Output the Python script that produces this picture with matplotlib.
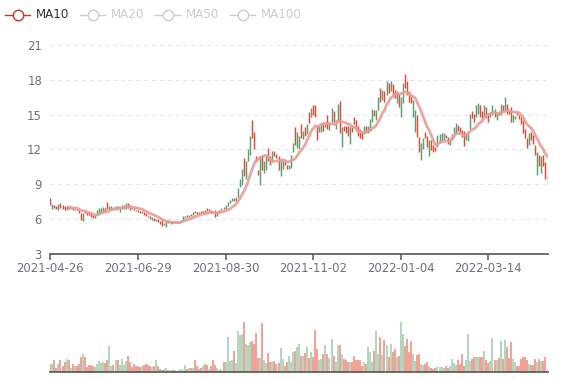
import numpy as np
import pandas as pd
from matplotlib import pyplot as plt
from matplotlib.lines import Line2D

# daily candles (rising candles are drawn green, falling red)
opens = [
    7.8, 6.9, 7.2, 7.1, 6.8, 7.4, 7.2, 7.1, 6.8, 7.1,
    6.9, 7.0, 6.8, 6.9, 6.8, 6.5, 5.8, 6.7, 6.6, 6.6,
    6.5, 6.35, 6.1, 6.35, 6.5, 6.55, 6.65, 7.0, 7.45, 6.8,
    6.8, 7.0, 6.8, 7.1, 6.65, 6.85, 6.9, 6.9, 7.42, 7.2,
    7.0, 6.95, 6.8, 6.75, 6.7, 6.55, 6.65, 6.5, 6.3, 6.3,
    5.9, 6.1, 5.85, 6.0, 5.8, 5.95, 5.5, 5.3, 5.85, 5.6,
    5.8, 5.65, 5.85, 5.7, 5.8, 5.85, 6.1, 6.35, 6.2, 6.45,
    6.35, 6.7, 6.6, 6.6, 6.7, 6.45, 6.75, 7.0, 6.7, 6.8,
    6.6, 6.75, 6.3, 6.55, 6.75, 7.05, 6.85, 7.15, 7.4, 7.6,
    7.85, 7.6, 7.9, 8.8, 8.9, 11.3, 9.5, 11.0, 11.5, 14.5,
    13.5, 11.4, 10.2, 8.9, 11.5, 10.0, 10.2, 12.1, 11.4, 10.95,
    11.9, 11.6, 11.45, 9.7, 10.3, 11.1, 10.7, 10.3, 10.4, 11.8,
    13.9, 12.1, 12.0, 14.2, 12.9, 13.9, 13.3, 15.2, 14.8, 15.8,
    15.8, 14.0, 13.5, 13.5, 14.4, 13.9, 15.0, 13.7, 14.4, 15.3,
    13.8, 14.4, 16.2, 12.2, 14.0, 14.0, 14.0, 12.5, 14.0, 14.8,
    14.5, 14.0, 13.8, 13.6, 13.3, 14.0, 13.4, 13.6, 14.4, 15.4,
    14.5, 15.4, 17.3, 16.3, 17.0, 16.7, 17.7, 17.0, 17.6, 17.1,
    16.0, 16.8, 14.8, 16.0, 18.5, 17.9, 17.0, 16.8, 14.8, 13.5,
    15.0, 13.1, 11.1, 12.0, 13.5, 13.2, 11.4, 12.8, 12.4, 12.2,
    12.2, 12.6, 12.8, 12.8, 13.25, 13.1, 12.4, 12.8, 13.3, 13.4,
    14.1, 13.9, 13.7, 13.6, 12.8, 12.7, 13.8, 15.3, 15.1, 14.8,
    15.1, 15.8, 15.3, 14.8, 15.7, 15.1, 14.8, 14.95, 15.5, 14.5,
    15.3, 15.0, 15.8, 15.3, 15.9, 15.3, 15.7, 14.4, 14.6, 15.2,
    14.95, 14.8, 14.5, 13.8, 13.0, 12.4, 13.5, 13.25, 12.4, 9.8,
    11.5, 10.0, 11.5, 10.9, 8.9,
]
closes = [
    7.2, 7.3, 7.0, 6.9, 7.3, 7.0, 6.9, 6.8, 7.1, 6.9,
    7.0, 6.8, 6.9, 6.8, 6.5, 5.9, 6.5, 6.5, 6.4, 6.4,
    6.2, 6.1, 6.35, 6.8, 7.0, 7.0, 7.08, 6.7, 6.85, 7.1,
    7.1, 6.75, 7.1, 6.9, 7.0, 7.2, 7.2, 7.35, 7.0, 6.8,
    6.85, 6.75, 6.7, 6.6, 6.55, 6.7, 6.4, 6.25, 6.15, 6.0,
    6.2, 5.8, 6.0, 5.75, 5.6, 5.4, 5.7, 5.8, 5.65, 5.8,
    5.65, 5.85, 5.7, 5.85, 5.9, 6.3, 6.3, 6.2, 6.4, 6.3,
    6.65, 6.5, 6.45, 6.45, 6.5, 6.7, 6.55, 6.7, 6.85, 6.5,
    6.5, 6.2, 6.6, 6.75, 7.0, 6.85, 7.2, 7.45, 7.65, 7.85,
    7.6, 7.9, 8.7, 9.5, 10.3, 9.7, 11.0, 12.0, 13.2, 13.0,
    12.0, 11.0, 9.8, 11.4, 10.2, 11.0, 11.4, 11.0, 10.7, 11.9,
    11.4, 11.25, 10.2, 11.2, 11.0, 10.7, 10.3, 10.7, 11.5, 12.6,
    12.4, 13.5, 13.2, 13.0, 13.6, 13.2, 14.2, 14.3, 15.6, 15.0,
    14.8, 12.8, 14.0, 14.2, 13.6, 14.2, 13.8, 14.3, 15.6, 14.4,
    14.5, 15.9, 13.4, 13.9, 13.6, 13.4, 13.2, 13.9, 13.5, 14.2,
    13.6, 13.2, 13.0, 12.9, 14.0, 13.4, 14.0, 14.6, 15.5, 14.9,
    15.4, 16.5, 16.1, 17.1, 16.1, 17.9, 16.9, 17.9, 16.6, 16.4,
    17.0, 15.7, 16.5, 17.7, 17.3, 16.7, 16.1, 16.0, 16.3, 15.4,
    13.1, 11.8, 12.6, 13.0, 12.96, 12.2, 12.8, 11.95, 11.8, 11.9,
    13.25, 13.35, 13.4, 13.45, 12.95, 12.5, 12.95, 13.3, 13.9, 14.25,
    13.6, 13.4, 13.1, 12.3, 13.4, 13.5, 15.1, 14.7, 14.4, 15.8,
    16.0, 14.8, 14.55, 15.8, 14.7, 14.4, 15.2, 15.8, 14.8, 15.2,
    14.95, 15.9, 15.3, 16.5, 15.1, 15.1, 14.4, 14.95, 14.9, 14.95,
    14.6, 14.2, 13.4, 13.0, 12.1, 13.4, 12.8, 12.5, 11.5, 11.8,
    10.6, 11.4, 10.6, 9.5, 9.8,
]
volumes = [
    8, 8, 12, 4.7, 8, 12, 6, 10.3, 13.7, 12,
    4.7, 8, 6.7, 6, 8.7, 15.3, 18, 15, 5.3, 7.7,
    7.7, 6, 5.3, 8.7, 11.3, 9.3, 10.3, 9.7, 12.7, 26,
    6, 7.7, 12, 12.7, 7, 13.7, 7, 11, 16, 10,
    5.3, 8.7, 6.7, 6, 5.3, 6.3, 7.7, 8.7, 7, 6.3,
    5.3, 6.3, 12.7, 6.3, 3, 2, 3.7, 4.7, 2.7, 2,
    2.3, 2, 1.3, 2.3, 3, 2.7, 7.7, 3, 4.7, 4.7,
    4, 12, 6, 3.7, 4.7, 6.3, 8.7, 7, 3.7, 6,
    12.7, 7.7, 4.7, 2, 3.7, 10, 10, 35.3, 11.3, 12.7,
    21, 9, 41, 37.7, 38, 50, 28, 27, 30.3, 31.7,
    28, 39.7, 14.7, 14.7, 49, 12, 9.7, 19, 10, 10.3,
    11, 8.7, 9.3, 24.7, 13.7, 6.3, 10, 16, 10, 20.3,
    21, 25.3, 28.7, 16, 16.3, 19.7, 25.3, 14.7, 20.3, 15.3,
    42, 23, 12.7, 13.7, 18.7, 27, 18.7, 14.7, 33.7, 16,
    10, 27.7, 27.7, 18.7, 13.3, 12, 10.7, 10.7, 10, 16.7,
    12, 12, 12, 6, 10, 8.7, 25.3, 20.3, 10, 21.3,
    41, 18.7, 35.3, 17, 32.7, 27, 15.7, 28, 20.3, 23.7,
    15.3, 16.3, 50, 38, 26, 33, 20.3, 31, 18.7, 11.3,
    17, 18.7, 8.7, 7, 8, 10.3, 6.3, 4.7, 3.3, 4,
    5.3, 5.3, 5.3, 4.7, 6.7, 4, 6.7, 13.7, 9.3, 7.7,
    12, 8.7, 18, 6.3, 12.7, 38, 11.3, 13.7, 15.7, 15.7,
    15.3, 15.3, 15.7, 21.3, 12.7, 9.7, 11, 34.7, 12.7, 12,
    14.7, 31, 13.7, 32.7, 25.3, 14.7, 30.3, 13.7, 10, 6.7,
    6.7, 13, 15.7, 15, 12, 8, 7, 7, 13.7, 10.3,
    13.7, 11.7, 11, 15.7, 3,
]
tick_labels = ['2021-04-26', '2021-06-29', '2021-08-30', '2021-11-02', '2022-01-04', '2022-03-14']
legend_names = ['MA10', 'MA20', 'MA50', 'MA100']

UP, DOWN = '#5e9e72', '#dd4b39'
UP_VOL, DOWN_VOL = '#a6cdb2', '#ee9183'
AXIS = '#6E7079'
W, H = 577, 380

df = pd.DataFrame({'open': opens, 'close': closes, 'volume': volumes})
df['ma10'] = df['close'].rolling(10).mean()
x = np.arange(len(df))
rising = (df['close'] >= df['open']).to_numpy()

fig = plt.figure(figsize=(W / 100, H / 100), dpi=100)
plt.rcParams['font.family'] = ['DejaVu Sans']

ax = fig.add_axes([50.3 / W, 1 - 254 / H, 497.2 / W, 209 / H])
vax = fig.add_axes([50.3 / W, 1 - 372.3 / H, 497.2 / W, 60 / H])

# candles as thin vertical strokes so every one renders the same width
lo = np.minimum(df['open'], df['close'])
hi = np.maximum(np.maximum(df['open'], df['close']), lo + 0.08)
ax.vlines(x, lo, hi, colors=np.where(rising, UP, DOWN), lw=1.05, zorder=3)
ax.plot(x, df['ma10'], color='#e79d98', lw=2.0, alpha=0.9, zorder=4, solid_capstyle='round')

ax.set_xlim(0, len(df) - 1)
ax.set_ylim(3, 21)
ax.set_yticks(np.arange(3, 22, 3))
ax.grid(axis='y', color='#E0E6F1', lw=0.75, dashes=(4, 3.5))
ax.set_axisbelow(True)
for s in ['top', 'right', 'left']:
    ax.spines[s].set_visible(False)
ax.spines['bottom'].set_color('#555555')
ax.spines['bottom'].set_linewidth(1.2)
step = 43
ax.set_xticks(np.arange(len(tick_labels)) * step)
ax.set_xticklabels(tick_labels)
ax.tick_params(axis='x', colors='#555555', length=4, width=1.1, labelcolor=AXIS, labelsize=8.4, pad=2)
ax.tick_params(axis='y', length=0, labelcolor=AXIS, labelsize=8.4, pad=6)

# volume
vax.vlines(x, 0, df['volume'], colors=np.where(rising, UP_VOL, DOWN_VOL), lw=1.2)
vax.set_xlim(0, len(df) - 1)
vax.set_ylim(0, 60)
vax.set_xticks([])
vax.set_yticks([])
for s in ['top', 'right', 'left']:
    vax.spines[s].set_visible(False)
vax.spines['bottom'].set_color('#555555')
vax.spines['bottom'].set_linewidth(1.2)

# legend (only MA10 active)
icon_x = [5, 80, 155, 230]
for name, ix in zip(legend_names, icon_x):
    active = name == 'MA10'
    col = '#c23531' if active else '#cccccc'
    yy = 1 - 15 / H
    fig.add_artist(Line2D([ix / W, (ix + 25) / W], [yy, yy], color=col, lw=1.0))
    fig.add_artist(Line2D([(ix + 12.5) / W], [yy], marker='o', ms=7.5, mfc='white', mec=col, mew=1.0))
    fig.text((ix + 31) / W, yy, name, color='#333333' if active else '#cccccc',
             fontsize=8.6, va='center', ha='left')

fig.savefig('out.png', dpi=100)
